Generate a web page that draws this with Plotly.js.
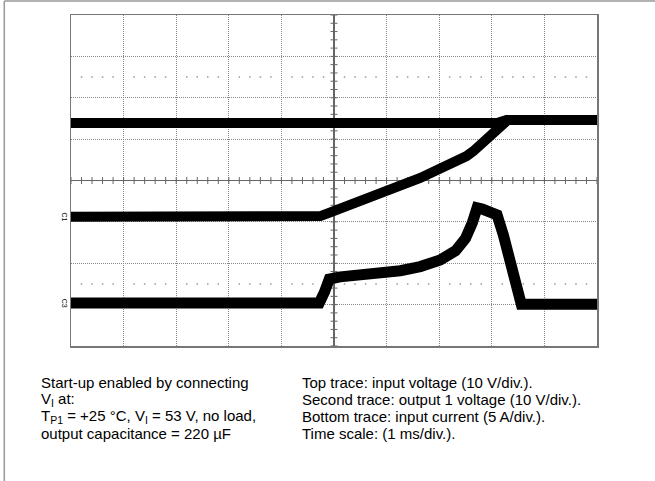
<!DOCTYPE html>
<html>
<head>
<meta charset="utf-8">
<script src="https://cdn.plot.ly/plotly-3.0.1.min.js"></script>
<style>
html,body{margin:0;padding:0;background:#fff;}
#chart{width:655px;height:481px;}
</style>
</head>
<body>
<div id="chart"></div>
<script>
// Time in ms (1 ms/div), 0 = screen centre; vertical values in divisions
var topTime = [-5, 3.1, 3.28, 5];
var topLevel = [1.39, 1.39, 1.46, 1.46];

var outTime = [-5, -0.26, -0.07, 0.21, 0.63, 0.98, 1.26, 1.64, 1.89, 2.13, 2.34, 2.52, 2.65, 2.78, 2.91, 3.01, 3.10, 3.22, 3.30, 5];
var outLevel = [-0.875, -0.86, -0.77, -0.64, -0.41, -0.25, -0.11, 0.06, 0.21, 0.34, 0.46, 0.59, 0.71, 0.86, 1.03, 1.17, 1.29, 1.41, 1.46, 1.46];

var curTime = [-5, -0.28, -0.18, -0.09, 0.12, 0.69, 1.26, 1.64, 2.02, 2.31, 2.50, 2.63, 2.72, 2.82, 3.01, 3.10, 3.22, 3.35, 3.48, 3.56, 5];
var curLevel = [-2.96, -2.96, -2.69, -2.38, -2.33, -2.28, -2.18, -2.08, -1.92, -1.70, -1.40, -1.02, -0.66, -0.69, -0.74, -0.83, -1.32, -1.97, -2.77, -2.99, -2.99];

var triggerTime = [2.6];
var triggerLevel = [-1.0];

var leftNotes = ["Start-up enabled by connecting", "V<sub>I</sub> at:", "T<sub>P1</sub> = +25 °C, V<sub>I</sub> = 53 V, no load,", "output capacitance = 220 µF"];
var rightNotes = ["Top trace: input voltage (10 V/div.).", "Second trace: output 1 voltage (10 V/div.).", "Bottom trace: input current (5 A/div.).", "Time scale: (1 ms/div.)."];
var channelLabels = ["C1", "C3"];
var channelLevels = [-0.875, -2.96];

// graticule helpers
var minorX = [], minorY = [], dotX = [];
for (var i = -25; i <= 25; i++) { minorX.push(i * 0.2); }
for (var j = -20; j <= 20; j++) { minorY.push(j * 0.2); }
for (var k = -25; k <= 25; k++) { if (k % 5 !== 0) { dotX.push(k * 0.2); } }

var traces = [
  {x: minorX, y: minorX.map(function(){return 0;}), mode: 'markers', type: 'scatter',
   marker: {symbol: 'line-ns-open', size: 5, color: '#666', line: {color: '#666', width: 1}}, hoverinfo: 'skip'},
  {x: minorY.map(function(){return 0;}), y: minorY, mode: 'markers', type: 'scatter',
   marker: {symbol: 'line-ew-open', size: 5, color: '#666', line: {color: '#666', width: 1}}, hoverinfo: 'skip'},
  {x: dotX.concat(dotX), y: dotX.map(function(){return 2.5;}).concat(dotX.map(function(){return -2.5;})),
   mode: 'markers', type: 'scatter', marker: {symbol: 'square', size: 1.5, color: '#999'}, hoverinfo: 'skip'},
  {x: topTime, y: topLevel, mode: 'lines', type: 'scatter', line: {color: '#000', width: 10}},
  {x: outTime, y: outLevel, mode: 'lines', type: 'scatter', line: {color: '#000', width: 10}},
  {x: curTime, y: curLevel, mode: 'lines', type: 'scatter', line: {color: '#000', width: 11}},
  {x: [5.1], y: triggerLevel, mode: 'markers', type: 'scatter', cliponaxis: false,
   marker: {symbol: 'triangle-left', size: 6, color: '#000'}},
  {x: triggerTime, y: [-4.1], mode: 'markers', type: 'scatter', cliponaxis: false,
   marker: {symbol: 'triangle-up', size: 6, color: '#000'}}
];

var annotations = [];
var lineY = [382, 399, 416, 433];
function py(p) { return (346 - p) / 331; }
function px(p) { return (p - 70.7) / 526; }
for (var a = 0; a < 4; a++) {
  annotations.push({xref: 'paper', yref: 'paper', x: px(39), y: py(lineY[a]), xanchor: 'left', yanchor: 'middle',
    text: leftNotes[a], showarrow: false, font: {family: 'Liberation Sans, Arial, sans-serif', size: 15, color: '#000'}});
  annotations.push({xref: 'paper', yref: 'paper', x: px(300), y: py(lineY[a]), xanchor: 'left', yanchor: 'middle',
    text: rightNotes[a], showarrow: false, font: {family: 'Liberation Sans, Arial, sans-serif', size: 15, color: '#000'}});
}
for (var c = 0; c < channelLabels.length; c++) {
  annotations.push({xref: 'paper', yref: 'y', x: px(64), y: channelLevels[c], xanchor: 'center', yanchor: 'middle',
    text: channelLabels[c], textangle: 90, showarrow: false, font: {family: 'Liberation Sans, Arial, sans-serif', size: 7, color: '#000'}});
}

var layout = {
  width: 655, height: 481,
  margin: {l: 70.7, r: 58.3, t: 15, b: 135},
  paper_bgcolor: '#fff', plot_bgcolor: '#fff',
  showlegend: false,
  xaxis: {range: [-5, 5], dtick: 1, showgrid: true, gridcolor: '#888', griddash: '1px,1px', gridwidth: 1,
    zeroline: true, zerolinecolor: '#666', zerolinewidth: 1.5, showline: true, mirror: true,
    linecolor: '#777', linewidth: 1.5, showticklabels: false, ticks: '', fixedrange: true},
  yaxis: {range: [-4, 4], dtick: 1, showgrid: true, gridcolor: '#888', griddash: '1px,1px', gridwidth: 1,
    zeroline: true, zerolinecolor: '#666', zerolinewidth: 1.5, showline: true, mirror: true,
    linecolor: '#777', linewidth: 1.5, showticklabels: false, ticks: '', fixedrange: true},
  annotations: annotations,
  shapes: [
    {type: 'line', xref: 'paper', yref: 'paper', x0: px(4), x1: px(4), y0: py(1), y1: py(481), line: {color: '#999', width: 1.5}},
    {type: 'line', xref: 'paper', yref: 'paper', x0: px(4), x1: px(655), y0: py(1), y1: py(1), line: {color: '#999', width: 1.5}}
  ]
};

Plotly.newPlot('chart', traces, layout, {displayModeBar: false, staticPlot: true});
</script>
</body>
</html>
